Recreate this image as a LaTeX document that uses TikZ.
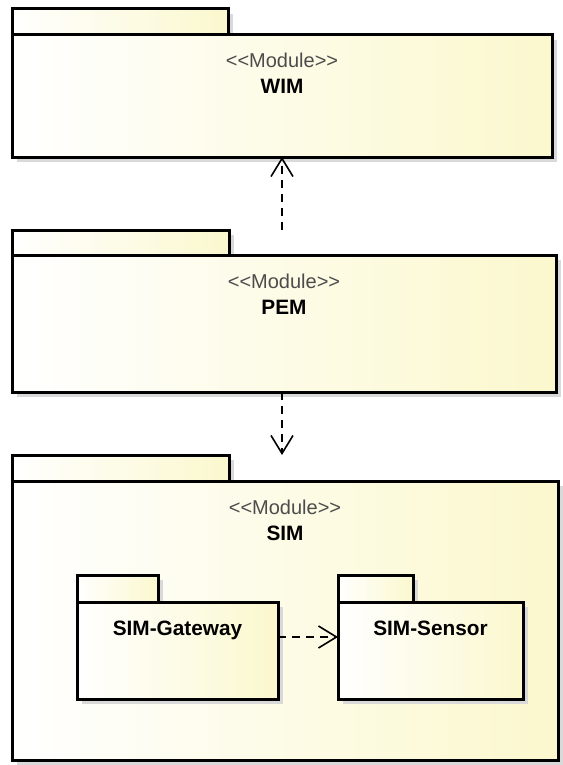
\documentclass[tikz,border=0pt]{standalone}
\usepackage{fontspec}
\setmainfont{Liberation Sans}
\usepackage{xcolor}
\usetikzlibrary{arrows.meta,positioning,shadows}
\definecolor{pkgyellow}{RGB}{251,248,206}
\tikzset{
  pkgshape/.style={draw=black,line width=1.5pt,left color=white,right color=pkgyellow,
    inner sep=0pt,outer sep=0pt,
    drop shadow={shadow xshift=2.5pt,shadow yshift=-2.5pt,fill=black!15,opacity=1}},
  pkgtab/.style={pkgshape,anchor=south west,minimum height=13pt},
  pkgbody/.style={pkgshape},
  stereotype/.style={font=\fontsize{10}{12}\selectfont,text=black!70,inner sep=0pt,anchor=base},
  pkgname/.style={font=\fontsize{10.4}{12}\selectfont\bfseries,inner sep=0pt,anchor=base},
  dependency/.style={-{Straight Barb[length=9pt,width=11pt,line width=0.8pt]},
    line width=0.9pt,dash pattern=on 4pt off 3pt}
}

\begin{document}
\begin{tikzpicture}[x=0.5pt,y=-0.5pt]
  \useasboundingbox (0,0) rectangle (562,765);
  % WIM
  \node[pkgtab,minimum width=108pt] (wimtab) at (12,35) {};
  \node[pkgbody,minimum width=270pt,minimum height=61pt,below right=0pt and 0pt of wimtab.south west] (wim) {};
  \node[stereotype] (wimst) at ([yshift=-16.5pt]wim.north) {<{}<Module>{}>};
  \node[pkgname] (wimname) at ([yshift=-29.5pt]wim.north) {WIM};
  % PEM
  \node[pkgtab,minimum width=108.5pt,minimum height=12.5pt] (pemtab) at (12,255) {};
  \node[pkgbody,minimum width=272pt,minimum height=68.5pt,below right=0pt and 0pt of pemtab.south west] (pem) {};
  \node[stereotype] (pemst) at ([yshift=-16.5pt]pem.north) {<{}<Module>{}>};
  \node[pkgname] (pemname) at ([yshift=-29.5pt]pem.north) {PEM};
  % SIM
  \node[pkgtab,minimum width=108.5pt] (simtab) at (12,481) {};
  \node[pkgbody,minimum width=273pt,minimum height=139.5pt,below right=0pt and 0pt of simtab.south west] (sim) {};
  \node[stereotype] (simst) at ([yshift=-16.5pt]sim.north) {<{}<Module>{}>};
  \node[pkgname] (simname) at ([yshift=-29.5pt]sim.north) {SIM};
  % inner packages
  \node[pkgtab,minimum width=40.5pt,minimum height=13.5pt] (gatewaytab) at (77,602) {};
  \node[pkgbody,minimum width=100.5pt,minimum height=48.5pt,below right=0pt and 0pt of gatewaytab.south west] (gateway) {};
  \node[pkgname] (gatewayname) at ([yshift=-16.5pt]gateway.north) {SIM-Gateway};
  \node[pkgtab,minimum width=37.5pt,minimum height=13.5pt] (sensortab) at (338,602) {};
  \node[pkgbody,minimum width=92.5pt,minimum height=48.5pt,below right=0pt and 0pt of sensortab.south west] (sensor) {};
  \node[pkgname] (sensorname) at ([yshift=-16.5pt]sensor.north) {SIM-Sensor};
  % dependencies
  \coordinate (wimin) at (282,230);
  \coordinate (simin) at (282,455);
  \draw[dependency] (wimin) -- (wim.south -| wimin);
  \draw[dependency] (pem.south -| simin) -- (simin);
  \draw[dependency] ([yshift=6.75pt]gateway.east) -- ([yshift=6.75pt]sensor.west);
\end{tikzpicture}
\end{document}
